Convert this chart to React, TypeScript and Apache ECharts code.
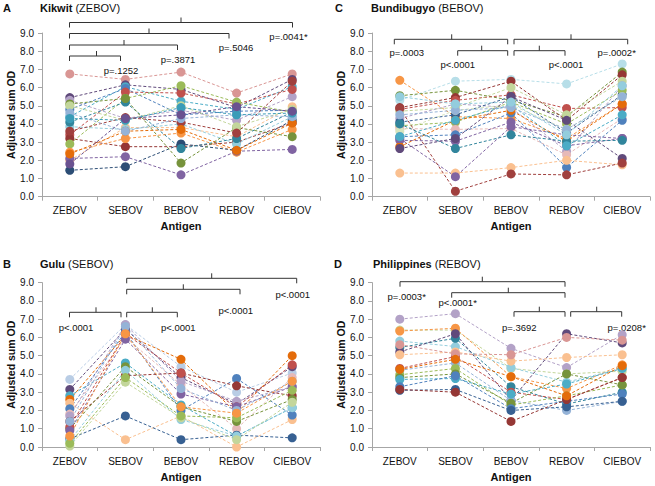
import React, { useEffect, useRef } from "react";
import * as echarts from "echarts";

const categories = ["ZEBOV", "SEBOV", "BEBOV", "REBOV", "CIEBOV"];
const yMin = 0;
const yMax = 9;
const yStep = 1;

// Panel A: Kikwit (ZEBOV)
const kikwitValues: number[][] = [
  [6.75, 6.45, 6.85, 5.7, 6.75],
  [5.45, 6.15, 5.9, 4.9, 6.45],
  [5.3, 4.3, 4.75, 4.2, 5.5],
  [4.4, 6.05, 5.25, 4.8, 6.05],
  [4.8, 5.95, 4.5, 4.7, 4.75],
  [3.4, 5.75, 5.7, 5.1, 5.9],
  [3.2, 2.75, 2.75, 3.0, 4.05],
  [2.9, 5.4, 6.1, 5.2, 4.65],
  [2.45, 3.2, 3.5, 2.45, 3.7],
  [2.0, 3.8, 3.8, 3.3, 4.95],
  [1.45, 1.65, 2.9, 2.55, 4.2],
  [2.1, 2.2, 1.2, 2.5, 2.6],
  [3.85, 3.7, 4.0, 2.9, 4.4],
  [4.1, 5.2, 2.65, 3.2, 4.65],
  [5.1, 5.4, 1.85, 3.8, 3.3],
  [5.0, 4.2, 5.0, 3.85, 4.8],
  [3.6, 4.35, 4.1, 3.5, 6.35],
  [2.35, 3.6, 3.7, 2.55, 4.05],
  [4.6, 3.6, 4.3, 4.5, 4.4],
  [4.3, 4.2, 4.9, 4.5, 4.6],
  [1.8, 4.3, 4.5, 4.95, 4.7],
];
const kikwitColors = [
  "#D99694", "#604A7B", "#B3A2C7", "#4BACC6", "#4F81BD", "#C0504D", "#953735",
  "#9BBB59", "#F79646", "#FAC090", "#2C4D75", "#8064A2", "#93CDDD", "#31859C",
  "#77933C", "#C3D69B", "#A0403E", "#E46C0A", "#95B3D7", "#3A9CB8", "#6A5290",
];

// Panel B: Gulu (SEBOV)
const guluValues: number[][] = [
  [3.7, 6.7, 4.4, 3.0, 4.05],
  [3.15, 6.45, 3.8, 2.35, 4.4],
  [2.8, 4.6, 2.3, 0.6, 2.15],
  [2.6, 6.15, 4.8, 1.85, 5.0],
  [2.4, 0.4, 1.7, 0.0, 1.5],
  [2.1, 6.3, 2.0, 3.75, 1.75],
  [1.8, 6.0, 3.4, 1.0, 3.8],
  [1.7, 6.7, 3.6, 2.5, 3.3],
  [1.4, 3.9, 4.05, 3.35, 2.8],
  [1.0, 4.4, 2.2, 1.4, 2.6],
  [0.45, 1.7, 0.4, 0.65, 0.5],
  [0.35, 4.2, 1.5, 0.6, 2.15],
  [0.05, 3.55, 1.6, 0.4, 2.45],
  [1.1, 6.2, 4.05, 2.2, 4.5],
  [0.9, 5.9, 2.9, 2.2, 3.3],
  [1.4, 6.6, 3.2, 2.0, 3.6],
  [0.2, 3.8, 1.7, 1.6, 3.1],
  [0.6, 6.2, 2.2, 1.85, 3.6],
];
const guluColors = [
  "#B9CDE5", "#604A7B", "#4BACC6", "#E46C0A", "#FAC090", "#4F81BD", "#E6B9B8",
  "#B3A2C7", "#953735", "#77933C", "#376092", "#93CDDD", "#C3D69B", "#C0504D",
  "#8064A2", "#95B3D7", "#9BBB59", "#F79646",
];

// Panel C: Bundibugyo (BEBOV)
const bundiValues: number[][] = [
  [5.3, 6.35, 6.45, 6.2, 7.3],
  [6.4, 4.4, 4.3, 3.2, 5.1],
  [5.55, 5.85, 5.3, 4.4, 6.85],
  [4.9, 5.45, 6.35, 4.2, 6.7],
  [4.8, 5.3, 5.6, 4.85, 4.9],
  [4.7, 4.9, 6.0, 4.5, 6.35],
  [4.3, 5.1, 4.9, 2.5, 6.1],
  [4.1, 4.5, 5.5, 3.5, 5.6],
  [3.9, 4.1, 5.2, 4.0, 5.85],
  [3.75, 3.7, 3.75, 2.3, 4.3],
  [3.6, 4.75, 5.05, 3.7, 5.5],
  [3.3, 3.4, 4.6, 1.6, 4.2],
  [3.1, 3.05, 4.1, 2.8, 3.2],
  [2.75, 4.2, 4.75, 3.05, 5.1],
  [2.65, 3.2, 5.5, 4.2, 2.1],
  [1.3, 1.3, 1.6, 2.0, 1.75],
  [3.2, 1.1, 3.85, 3.4, 3.2],
  [4.85, 0.3, 1.25, 1.2, 1.85],
  [4.0, 2.65, 3.4, 3.05, 3.1],
  [3.3, 4.2, 5.05, 2.8, 4.5],
  [4.5, 4.75, 4.9, 3.7, 5.5],
  [5.5, 5.1, 5.2, 3.4, 6.1],
];
const bundiColors = [
  "#B7DEE8", "#F79646", "#77933C", "#953735", "#C0504D", "#C3D69B", "#B3A2C7",
  "#376092", "#9BBB59", "#E6B9B8", "#D7E4BD", "#4F81BD", "#8064A2", "#E46C0A",
  "#604A7B", "#FAC090", "#8064A2", "#A0403E", "#31859C", "#4BACC6", "#95B3D7",
  "#93CDDD",
];

// Panel D: Philippines (REBOV)
const philValues: number[][] = [
  [7.0, 7.3, 5.4, 4.35, 6.15],
  [6.4, 6.4, 4.3, 4.0, 4.15],
  [6.35, 6.5, 3.85, 3.2, 4.5],
  [5.8, 5.5, 4.35, 3.55, 4.3],
  [5.45, 5.95, 3.3, 2.35, 3.0],
  [5.2, 6.2, 2.55, 6.2, 5.7],
  [5.05, 5.2, 4.7, 4.9, 5.05],
  [4.3, 4.95, 3.0, 2.6, 3.8],
  [4.2, 4.6, 2.55, 2.0, 2.5],
  [3.95, 4.3, 2.3, 2.8, 3.4],
  [3.8, 4.0, 2.4, 4.0, 3.4],
  [3.7, 3.75, 2.9, 3.45, 4.3],
  [3.3, 3.9, 2.1, 2.5, 2.9],
  [3.1, 3.15, 2.0, 2.2, 2.5],
  [3.15, 3.0, 1.4, 2.6, 3.8],
  [5.6, 5.1, 5.05, 6.0, 5.85],
  [4.25, 4.8, 3.85, 2.8, 4.45],
];
const philColors = [
  "#B3A2C7", "#C3D69B", "#F79646", "#93CDDD", "#31859C", "#604A7B", "#FAC090",
  "#C0504D", "#95B3D7", "#9BBB59", "#77933C", "#4BACC6", "#4F81BD", "#376092",
  "#953735", "#D99694", "#E46C0A",
];

const panelTitles = [
  { letter: "A", bold: "Kikwit", rest: "(ZEBOV)" },
  { letter: "B", bold: "Gulu", rest: "(SEBOV)" },
  { letter: "C", bold: "Bundibugyo", rest: "(BEBOV)" },
  { letter: "D", bold: "Philippines", rest: "(REBOV)" },
];

const pLabelsA = ["p=.1252", "p=.3871", "p=.5046", "p=.0041*"];
const pLabelsB = ["p<.0001", "p<.0001", "p<.0001", "p<.0001"];
const pLabelsC = ["p=.0003", "p<.0001", "p<.0001", "p=.0002*"];
const pLabelsD = ["p=.0003*", "p<.0001*", "p=.3692", "p=.0208*"];

const FONT = "'Liberation Sans', Arial, sans-serif";

export default function App() {
  const ref = useRef<HTMLDivElement>(null);

  useEffect(() => {
    document.body.style.margin = "0";
    if (!ref.current) return;
    const chart = echarts.init(ref.current, undefined, { renderer: "svg" });

    const grids = [
      { left: 42, top: 33, width: 278, height: 163.7 },
      { left: 42, top: 282.6, width: 278, height: 164.4 },
      { left: 372, top: 33, width: 278, height: 163.7 },
      { left: 372, top: 282.6, width: 278, height: 164.4 },
    ];

    const axisColor = "#a6a6a6";
    const xAxes = grids.map((_, i) => ({
      type: "category",
      gridIndex: i,
      data: categories,
      boundaryGap: true,
      name: "Antigen",
      nameLocation: "middle",
      nameGap: 24,
      nameTextStyle: { fontFamily: FONT, fontWeight: "bold", fontSize: 11, color: "#111" },
      axisLine: { lineStyle: { color: axisColor, width: 1 } },
      axisTick: { show: true, length: 4, alignWithLabel: false, lineStyle: { color: axisColor } },
      axisLabel: { fontFamily: FONT, fontSize: 10, color: "#111", margin: 9 },
      splitLine: { show: false },
    }));
    const yAxes = grids.map((_, i) => ({
      type: "value",
      gridIndex: i,
      min: yMin,
      max: yMax,
      interval: yStep,
      name: "Adjusted sum OD",
      nameLocation: "middle",
      nameGap: 25,
      nameRotate: 90,
      nameTextStyle: { fontFamily: FONT, fontWeight: "bold", fontSize: 10.5, color: "#111" },
      axisLine: { show: true, lineStyle: { color: axisColor, width: 1 } },
      axisTick: { show: true, length: 4, lineStyle: { color: axisColor } },
      axisLabel: {
        fontFamily: FONT,
        fontSize: 10,
        color: "#111",
        margin: 8,
        formatter: (v: number) => v.toFixed(1),
      },
      splitLine: { show: false },
    }));

    const panels = [
      { values: kikwitValues, colors: kikwitColors, idx: 0 },
      { values: guluValues, colors: guluColors, idx: 1 },
      { values: bundiValues, colors: bundiColors, idx: 2 },
      { values: philValues, colors: philColors, idx: 3 },
    ];
    const series: any[] = [];
    panels.forEach((p) => {
      p.values.forEach((vals, k) => {
        const c = p.colors[k % p.colors.length];
        series.push({
          type: "line",
          xAxisIndex: p.idx,
          yAxisIndex: p.idx,
          data: vals,
          symbol: "circle",
          symbolSize: 9,
          lineStyle: { color: c, width: 1, type: [3, 2] },
          itemStyle: { color: c },
          z: 2,
        });
      });
    });

    const lineColor = "#333";
    const graphics: any[] = [];
    const bracket = (x1: number, x2: number, y: number, xm: number) => {
      graphics.push({
        type: "polyline",
        shape: { points: [[x1, y + 5], [x1, y], [x2, y], [x2, y + 5]] },
        style: { stroke: lineColor, lineWidth: 1, fill: null },
        silent: true,
      });
      graphics.push({
        type: "line",
        shape: { x1: xm, y1: y, x2: xm, y2: y - 5 },
        style: { stroke: lineColor, lineWidth: 1 },
        silent: true,
      });
    };
    const ptext = (t: string, x: number, y: number) => {
      graphics.push({
        type: "text",
        x,
        y,
        style: {
          text: t,
          fontFamily: FONT,
          fontSize: 9.5,
          fill: "#111",
          align: "center",
          verticalAlign: "middle",
        },
        silent: true,
      });
    };

    // Panel A
    bracket(69.5, 120.5, 56, 96.5);
    bracket(69.5, 177.5, 45, 124);
    bracket(69.5, 229, 33.5, 149);
    bracket(69.5, 292.5, 22.5, 181);
    ptext(pLabelsA[0], 121, 70);
    ptext(pLabelsA[1], 178, 59.5);
    ptext(pLabelsA[2], 236, 47.5);
    ptext(pLabelsA[3], 288.5, 36);

    // Panel B
    bracket(69.5, 121, 312.3, 96);
    bracket(126.7, 177.3, 312.3, 152.3);
    bracket(126.7, 240, 289.3, 183.3);
    bracket(126.7, 296.7, 278.3, 211.7);
    ptext(pLabelsB[0], 76, 327.3);
    ptext(pLabelsB[1], 178.3, 327.3);
    ptext(pLabelsB[2], 235.7, 310);
    ptext(pLabelsB[3], 292.7, 294);

    // Panel C
    bracket(394.3, 507.7, 39.3, 451.7);
    bracket(457.7, 507.7, 50.7, 481.7);
    bracket(514, 627.7, 39.3, 571);
    bracket(514, 565, 50.7, 539.3);
    ptext(pLabelsC[0], 406.7, 52.7);
    ptext(pLabelsC[1], 457.7, 64.3);
    ptext(pLabelsC[2], 566, 64.3);
    ptext(pLabelsC[3], 616.7, 52.7);

    // Panel D
    bracket(400, 565, 281.7, 482.3);
    bracket(451.7, 565, 292.7, 508.3);
    bracket(514, 565, 311.7, 539.3);
    bracket(570.7, 621.7, 311.7, 596.7);
    ptext(pLabelsD[0], 406.7, 296.7);
    ptext(pLabelsD[1], 457.7, 302.7);
    ptext(pLabelsD[2], 519.3, 327.3);
    ptext(pLabelsD[3], 626.7, 327.3);

    // Titles
    const titlePos = [
      { lx: 3, tx: 40, y: 8 },
      { lx: 3, tx: 40, y: 264 },
      { lx: 335, tx: 371, y: 8 },
      { lx: 334, tx: 373, y: 264 },
    ];
    panelTitles.forEach((t, i) => {
      const p = titlePos[i];
      graphics.push({
        type: "text",
        x: p.lx,
        y: p.y,
        style: {
          text: t.letter,
          fontFamily: FONT,
          fontWeight: "bold",
          fontSize: 11,
          fill: "#111",
          align: "left",
          verticalAlign: "middle",
        },
        silent: true,
      });
      graphics.push({
        type: "text",
        x: p.tx,
        y: p.y,
        style: {
          text: "{b|" + t.bold + "} {n|" + t.rest + "}",
          fontFamily: FONT,
          fontSize: 11,
          fill: "#111",
          align: "left",
          verticalAlign: "middle",
          rich: {
            b: { fontFamily: FONT, fontWeight: "bold", fontSize: 11, fill: "#111" },
            n: { fontFamily: FONT, fontSize: 11, fill: "#111" },
          },
        },
        silent: true,
      });
    });

    chart.setOption({
      animation: false,
      backgroundColor: "#fff",
      grid: grids,
      xAxis: xAxes,
      yAxis: yAxes,
      series,
      graphic: graphics,
    });

    return () => chart.dispose();
  }, []);

  return <div ref={ref} style={{ width: 655, height: 486 }} />;
}
